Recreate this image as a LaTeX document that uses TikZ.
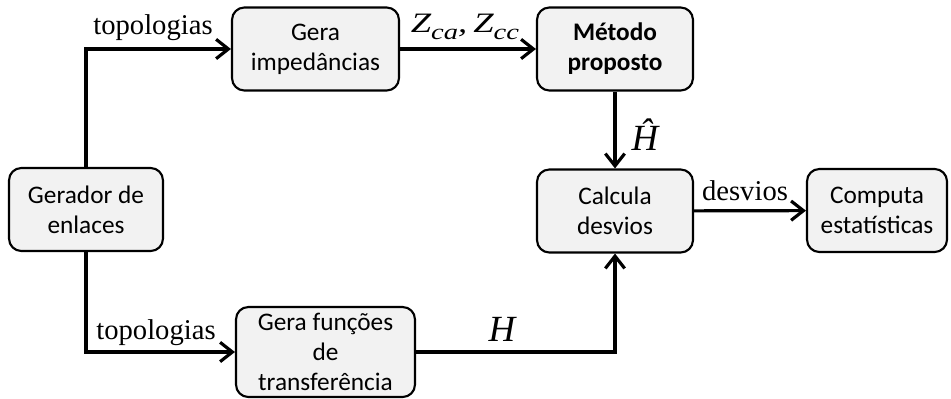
\documentclass[tikz,border=0pt]{standalone}
\usepackage{fontspec}
\setmainfont{Liberation Serif}
\newfontfamily\boxfont{Carlito}
\usetikzlibrary{arrows.meta}

\begin{document}
\begin{tikzpicture}[x=0.02cm, y=-0.02cm,
			block/.style={rectangle, rounded corners=7pt, draw, line width=1.2pt, fill=black!5,
				align=center, inner sep=0pt, minimum height=1.66cm,
				font=\boxfont\fontsize{14.4}{17}\selectfont},
			flow/.style={line width=1.8pt, -{Straight Barb[length=7pt, width=11pt, line width=1.8pt]}},
			lbl/.style={inner sep=0pt, font=\fontsize{16.3}{18}\selectfont},
			sym/.style={inner sep=0pt, font=\fontsize{21}{23}\selectfont\itshape}]

		\useasboundingbox (0,0) rectangle (951,399);

		\node[block, minimum width=3.08cm] (gerador) at (86, 209.5) {Gerador de\\enlaces};
		\node[block, minimum width=3.34cm] (impedancias) at (315.5, 49) {Gera\\impedâncias};
		\node[block, minimum width=3.12cm, font=\boxfont\bfseries\fontsize{14.4}{17}\selectfont] (metodo) at (615, 49) {Método\\proposto};
		\node[block, minimum width=3.12cm] (calcula) at (615, 211) {Calcula\\desvios};
		\node[block, minimum width=2.8cm] (computa) at (877, 210.5) {Computa\\estatísticas};
		\node[block, minimum width=3.58cm, minimum height=1.8cm] (funcoes) at (325.5, 352) {Gera funções\\de\\transferência};

		\draw[flow] (gerador.north) |- (impedancias.west);
		\draw[flow] (gerador.south) |- (funcoes.west);
		\draw[flow] (impedancias) -- (metodo);
		\draw[flow] (metodo) -- (calcula);
		\draw[flow] (funcoes.east) -| (calcula.south);
		\draw[flow] (calcula) -- (computa);

		\node[lbl] (topo1) at (153, 28) {topologias};
		\node[lbl] (topo2) at (156, 333) {topologias};
		\node[lbl] (desv) at (745, 191) {desvios};
		\node[sym, font=\fontsize{16}{18}\selectfont\itshape] (zeta) at (465, 27)
			{\scalebox{1.3}[1]{Z\raisebox{-0.5ex}{\fontsize{12.5}{14}\selectfont ca},\,Z\raisebox{-0.5ex}{\fontsize{12.5}{14}\selectfont cc}}};
		\node[sym] (hhat) at (645, 135) {Ĥ};
		\node[sym] (hfun) at (502, 329) {H};
	\end{tikzpicture}
\end{document}
